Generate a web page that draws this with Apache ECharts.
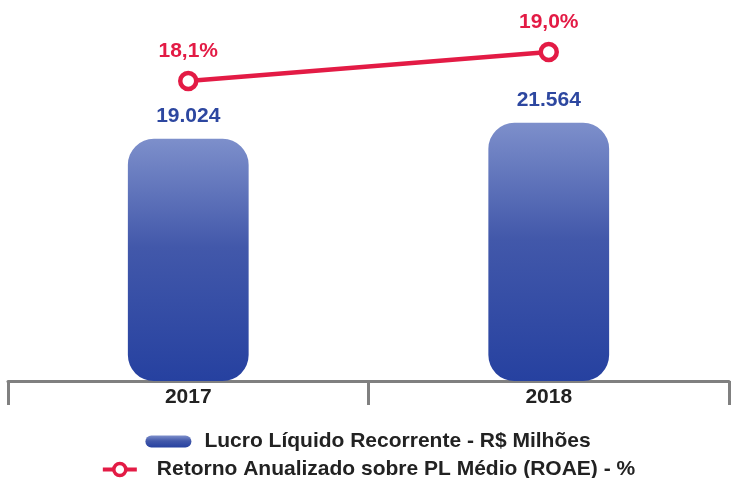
<!DOCTYPE html>
<html>
<head>
<meta charset="utf-8">
<script src="https://cdn.jsdelivr.net/npm/echarts@6/dist/echarts.min.js"></script>
<style>
  html, body { margin: 0; padding: 0; background: #fff; }
  #chart { width: 736px; height: 478px; }
</style>
</head>
<body>
<div id="chart"></div>
<script>
// data
const years = ["2017", "2018"];
const lucro = [19024, 21564]; // R$ milhões
const roae = [18.1, 19.0]; // %
const barName = "Lucro Líquido Recorrente - R$ Milhões";
const lineName = "Retorno Anualizado sobre PL Médio (ROAE) - %";

const blue = "#2d47a0";
const red = "#e31b45";
const font = "Liberation Sans";

let chart = echarts.init(document.getElementById("chart"), null, { renderer: "canvas" });

let option = {
  animation: false,
  textStyle: { fontFamily: font },
  grid: { left: 8, right: 7, top: 23, bottom: 97 },
  legend: [
    {
      data: [barName],
      left: "center",
      top: 426,
      itemWidth: 46,
      itemHeight: 12,
      icon: "path://M6,0 H40 A6,6 0 0 1 40,12 H6 A6,6 0 0 1 6,0 Z",
      textStyle: { fontSize: 21, fontWeight: "bold", color: "#222", fontFamily: font, padding: [0, 0, 0, 8] },
    },
    {
      data: [lineName],
      left: "center",
      top: 454,
      itemWidth: 34,
      itemHeight: 15,
      lineStyle: { width: 4 },
      itemStyle: { borderWidth: 3.5 },
      textStyle: { fontSize: 21, fontWeight: "bold", color: "#222", fontFamily: font, padding: [0, 0, 0, 15] },
    },
  ],
  xAxis: {
    type: "category",
    data: years,
    axisLine: { onZero: false, lineStyle: { color: "#808080", width: 3 } },
    axisTick: { show: true, length: 24, lineStyle: { color: "#808080", width: 3 } },
    axisLabel: { margin: 6, fontSize: 21, fontWeight: "bold", color: "#222", fontFamily: font },
  },
  yAxis: [
    {
      type: "value",
      show: false,
      min: -19400,
      max: 37400,
      startValue: -19400, // bars start from the axis floor, not from zero
    },
    {
      type: "value",
      show: false,
      min: 8.8,
      max: 19.9,
    },
  ],
  series: [
    {
      name: barName,
      type: "bar",
      yAxisIndex: 0,
      data: lucro,
      barWidth: "33.5%",
      itemStyle: {
        borderRadius: 26,
        color: new echarts.graphic.LinearGradient(0, 0, 0, 1, [
          { offset: 0, color: "#7d8fcb" },
          { offset: 0.45, color: "#4258aa" },
          { offset: 1, color: "#2641a0" },
        ]),
      },
      label: {
        show: true,
        position: "top",
        distance: 12,
        fontSize: 21,
        fontWeight: "bold",
        color: blue,
        fontFamily: font,
        formatter: (p) => String(p.value).replace(/\B(?=(\d{3})+(?!\d))/g, "."),
      },
    },
    {
      name: lineName,
      type: "line",
      yAxisIndex: 1,
      data: roae,
      symbol: "circle",
      symbolSize: 16,
      lineStyle: { color: red, width: 4.5 },
      itemStyle: { color: "#fff", borderColor: red, borderWidth: 4.5 },
      label: {
        show: true,
        position: "top",
        distance: 9,
        fontSize: 21,
        fontWeight: "bold",
        color: red,
        fontFamily: font,
        formatter: (p) => p.value.toFixed(1).replace(".", ",") + "%",
      },
    },
  ],
};
chart.setOption(option);
</script>
</body>
</html>
